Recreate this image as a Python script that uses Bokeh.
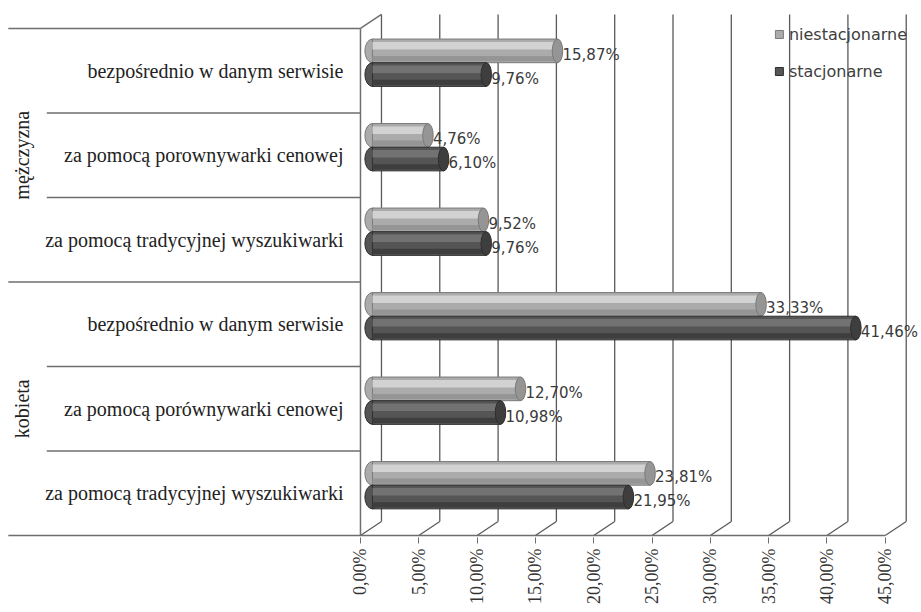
from bokeh.plotting import figure
from bokeh.models import Range1d, LinearAxis, FixedTicker, Legend, LegendItem
from bokeh.core.properties import value
from bokeh.embed import file_html
from bokeh.resources import INLINE
import math

# ---------------- data ----------------
groups = ["mężczyzna", "kobieta"]
categories = [
    "bezpośrednio w danym serwisie",
    "za pomocą porownywarki cenowej",
    "za pomocą tradycyjnej wyszukiwarki",
    "bezpośrednio w danym serwisie",
    "za pomocą porównywarki cenowej",
    "za pomocą tradycyjnej wyszukiwarki",
]
group_of_row = ["mężczyzna", "mężczyzna", "mężczyzna", "kobieta", "kobieta", "kobieta"]
series_names = ["niestacjonarne", "stacjonarne"]
niestacjonarne = [15.87, 4.76, 9.52, 33.33, 12.70, 23.81]
stacjonarne = [9.76, 6.10, 9.76, 41.46, 10.98, 21.95]
tick_values = [0, 5, 10, 15, 20, 25, 30, 35, 40, 45]
tick_labels = ["0,00%", "5,00%", "10,00%", "15,00%", "20,00%",
               "25,00%", "30,00%", "35,00%", "40,00%", "45,00%"]

# ---------------- layout constants (style) ----------------
n = len(categories)
rows_y = [n - 1 - i for i in range(n)]          # top row first
DX, DY = 1.8, 0.166                             # 3D depth offset
BAR_H = 0.28
OFF_LIGHT, OFF_DARK = 0.235, -0.045
LINE_C = "#6e6e6e"
GRID_C = "#5a5a5a"

p = figure(width=921, height=612, output_backend="svg", toolbar_location=None,
           x_axis_location=None, y_axis_location=None,
           x_range=Range1d(-31.9, 47.09), y_range=Range1d(-0.524, 5.713),
           min_border_left=0, min_border_right=0, min_border_top=10,
           min_border_bottom=75)
p.extra_x_ranges = {"front": Range1d(-30.87, 48.11)}
p.outline_line_color = None
p.xgrid.visible = False
p.ygrid.visible = False
p.background_fill_color = "white"
p.border_fill_color = "white"

# ---------------- 3D walls / grid ----------------
top = n - 0.5
bot = -0.5
# back wall gridlines
p.segment(x0=[t + DX for t in tick_values], x1=[t + DX for t in tick_values],
          y0=[bot + DY] * len(tick_values), y1=[top + DY] * len(tick_values),
          x_range_name="front", line_color=GRID_C, line_width=1.3)
# floor diagonals
p.segment(x0=tick_values, x1=[t + DX for t in tick_values],
          y0=[bot] * len(tick_values), y1=[bot + DY] * len(tick_values),
          x_range_name="front", line_color=GRID_C, line_width=1.3)
# left wall top diagonal + vertical
p.segment(x0=[0, 0], x1=[DX, 0], y0=[top, bot], y1=[top + DY, top],
          x_range_name="front", line_color=LINE_C, line_width=1.5)
# front axis line / table bottom
p.segment(x0=[-30.2], x1=[tick_values[-1]], y0=[bot], y1=[bot],
          x_range_name="front", line_color=LINE_C, line_width=1.5)
# table lines: group borders (full) and inner separators
group_bounds = [top, top - 3]
inner_bounds = [top - 1, top - 2, top - 4, top - 5]
p.segment(x0=[-30.2] * len(group_bounds), x1=[0] * len(group_bounds),
          y0=group_bounds, y1=group_bounds, x_range_name="front",
          line_color=LINE_C, line_width=1.5)
p.segment(x0=[-26.9] * len(inner_bounds), x1=[0] * len(inner_bounds),
          y0=inner_bounds, y1=inner_bounds, x_range_name="front",
          line_color=LINE_C, line_width=1.5)

# ---------------- table labels ----------------
p.text(x=[-1.46] * n, y=rows_y, text=categories, x_range_name="front",
       text_font=value("Liberation Serif"), text_font_size="20px",
       text_align="right", text_baseline="middle", text_color="#222222")
group_y = []
for g in groups:
    ys = [rows_y[i] for i in range(n) if group_of_row[i] == g]
    group_y.append(sum(ys) / len(ys))
p.text(x=[-29.0] * len(groups), y=group_y, text=groups, x_range_name="front",
       angle=math.pi / 2, text_font=value("Liberation Serif"),
       text_font_size="20px", text_align="center", text_baseline="middle",
       text_color="#222222")

# ---------------- bars (cylinder-like shading) ----------------
def cylinder(vals, off, base, edge, light, shade):
    ys = [r + off for r in rows_y]
    zeros = [0] * len(vals)
    p.ellipse(x=zeros, y=ys, width=1.3, height=BAR_H, fill_color=base,
              line_color=edge, line_width=1)
    r = p.hbar(y=ys, left=zeros, right=vals, height=BAR_H, fill_color=base,
               line_color=edge, line_width=1)
    p.hbar(y=[y + 0.22 * BAR_H for y in ys], left=zeros, right=vals,
           height=0.32 * BAR_H, fill_color=light, line_color=None)
    p.hbar(y=[y - 0.33 * BAR_H for y in ys], left=zeros, right=vals,
           height=0.22 * BAR_H, fill_color=shade, line_color=None)
    p.ellipse(x=vals, y=ys, width=0.9, height=BAR_H, fill_color=shade,
              line_color=edge, line_width=1)
    txt = [("%.2f" % v).replace(".", ",") + "%" for v in vals]
    p.text(x=vals, y=ys, text=txt, x_offset=5, y_offset=4,
           text_font=value("DejaVu Sans"), text_font_size="15px",
           text_align="left", text_baseline="middle", text_color="#3a3a3a")
    return r

r_light = cylinder(niestacjonarne, OFF_LIGHT, "#ababab", "#7a7a7a", "#d2d2d2", "#959595")
r_dark = cylinder(stacjonarne, OFF_DARK, "#555555", "#2e2e2e", "#727272", "#3e3e3e")

# ---------------- axis ----------------
ax = LinearAxis(x_range_name="front", ticker=FixedTicker(ticks=tick_values),
                major_label_overrides={t: l for t, l in zip(tick_values, tick_labels)})
ax.axis_line_color = None
ax.major_tick_out = 6
ax.major_tick_in = 0
ax.minor_tick_line_color = None
ax.major_tick_line_color = LINE_C
ax.major_label_orientation = math.pi / 2
ax.major_label_text_font = "Liberation Serif"
ax.major_label_text_font_size = "18px"
ax.major_label_text_color = "#333333"
ax.major_label_standoff = 5
p.add_layout(ax, "below")

# ---------------- legend ----------------
legend = Legend(items=[LegendItem(label=series_names[0], renderers=[r_light]),
                       LegendItem(label=series_names[1], renderers=[r_dark])],
                location="top_right")
legend.background_fill_alpha = 0
legend.border_line_color = None
legend.glyph_width = 10
legend.glyph_height = 10
legend.label_height = 20
legend.spacing = 17
legend.padding = 4
legend.margin = 14
legend.label_standoff = 5
legend.label_text_font = "DejaVu Sans"
legend.label_text_font_size = "16px"
legend.label_text_color = "#404040"
p.add_layout(legend)

open("out.html", "w").write(file_html(p, INLINE))
